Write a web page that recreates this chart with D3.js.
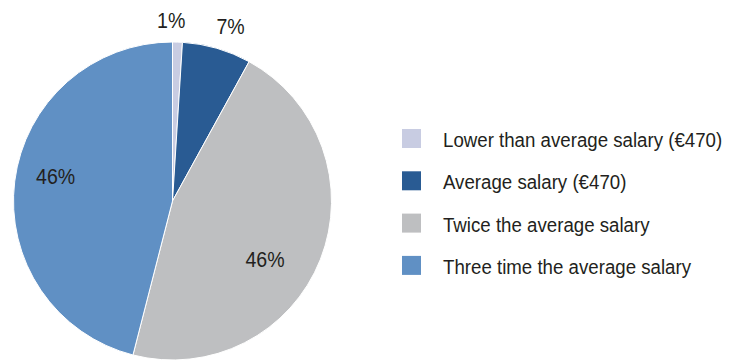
<!DOCTYPE html>
<html>
<head>
<meta charset="utf-8">
<script src="https://cdn.jsdelivr.net/npm/d3@7"></script>
<style>
  html, body { margin: 0; padding: 0; background: #fff; }
  svg { display: block; }
  text { font-family: "Liberation Sans", Arial, sans-serif; fill: #231f20; }
</style>
</head>
<body>
<svg id="chart" width="729" height="360"></svg>
<script>
// Salary distribution shares
const categories = [
  "Lower than average salary (€470)",
  "Average salary (€470)",
  "Twice the average salary",
  "Three time the average salary"
];
const shares = [1, 7, 46, 46];
const shareLabels = ["1%", "7%", "46%", "46%"];
const colors = ["#c8cce2", "#295b93", "#bebfc1", "#6090c4"];

const svg = d3.select("#chart");
const cx = 172.5, cy = 201, radius = 159;
const squeeze = 0.89; // condensed look for all text

const pie = d3.pie().sort(null).value(d => d)(shares);
const arc = d3.arc().innerRadius(0).outerRadius(radius);

const g = svg.append("g").attr("transform", `translate(${cx},${cy})`);

g.selectAll("path.slice")
  .data(pie)
  .join("path")
  .attr("class", "slice")
  .attr("d", arc)
  .attr("fill", (d, i) => colors[i])
  .attr("stroke", "#fff")
  .attr("stroke-width", 1);

// Percentage labels: small slices sit outside the rim, large ones inside
const labelPlacement = [
  { r: radius + 22, dx: -7, dy: 0 },
  { r: radius + 24, dx: 7, dy: 1 },
  { r: radius * 0.68, dx: -8, dy: 18 },
  { r: radius * 0.76, dx: 3, dy: -10 }
];
g.selectAll("text.pct")
  .data(pie)
  .join("text")
  .attr("class", "pct")
  .attr("transform", (d, i) => {
    const p = labelPlacement[i];
    const [x, y] = d3.arc().innerRadius(p.r).outerRadius(p.r).centroid(d);
    return `translate(${x + p.dx},${y + p.dy}) scale(${squeeze},1)`;
  })
  .attr("text-anchor", "middle")
  .attr("dy", "0.36em")
  .attr("font-size", 22)
  .text((d, i) => shareLabels[i]);

// Legend
const legend = svg.append("g").attr("transform", "translate(402,129)");
const rowStep = 42.3;
const rows = legend.selectAll("g.row")
  .data(categories)
  .join("g")
  .attr("class", "row")
  .attr("transform", (d, i) => `translate(0,${i * rowStep})`);
rows.append("rect")
  .attr("width", 19)
  .attr("height", 19)
  .attr("fill", (d, i) => colors[i]);
rows.append("text")
  .attr("transform", `translate(41,18) scale(${squeeze},1)`)
  .attr("font-size", 21)
  .text(d => d);
</script>
</body>
</html>
